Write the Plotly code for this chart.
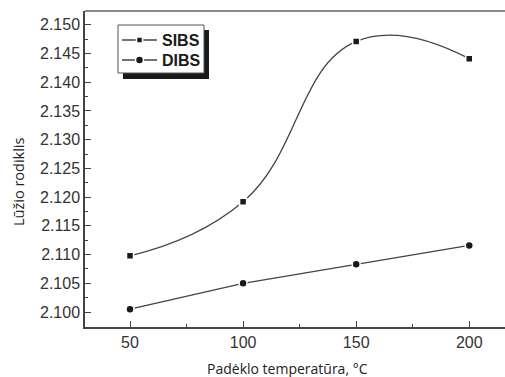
import plotly.graph_objects as go

# Substrate temperature (°C) and refractive index for two deposition methods
temperature = [50, 100, 150, 200]
sibs_index = [2.1098, 2.1192, 2.1471, 2.1441]
dibs_index = [2.1005, 2.1050, 2.1083, 2.1116]
series_names = ["SIBS", "DIBS"]

y_ticks = [2.100, 2.105, 2.110, 2.115, 2.120, 2.125, 2.130, 2.135, 2.140, 2.145, 2.150]
x_ticks = [50, 100, 150, 200]

W, H = 505, 377
ML, MR, MT, MB = 85, 0, 11, 50
PW, PH = W - ML - MR, H - MT - MB

LINE = "#444444"
INK = "#1a1a1a"


def px_x(p):
    return (p - ML) / PW


def px_y(p):
    return (H - MB - p) / PH


fig = go.Figure()

fig.add_trace(go.Scatter(
    x=temperature, y=sibs_index, name=series_names[0],
    mode="lines+markers",
    line=dict(color=LINE, width=1.3, shape="spline", smoothing=1.3),
    marker=dict(symbol="square", size=7, color=INK,
                line=dict(color="white", width=1.5)),
))
fig.add_trace(go.Scatter(
    x=temperature, y=dibs_index, name=series_names[1],
    mode="lines+markers",
    line=dict(color=LINE, width=1.3),
    marker=dict(symbol="circle", size=8, color=INK,
                line=dict(color="white", width=1.5)),
))

# Top frame line
fig.add_shape(type="line", xref="paper", yref="paper",
              x0=0, x1=1, y0=1, y1=1,
              line=dict(color="#8a8a8a", width=2))

# Legend box with a drop shadow, drawn as paper-space shapes
box_l, box_t, box_r, box_b = 118, 25, 204, 73
fig.add_shape(type="rect", xref="paper", yref="paper",
              x0=px_x(box_l + 5), x1=px_x(box_r + 5),
              y0=px_y(box_b + 6), y1=px_y(box_t + 5),
              fillcolor=INK, line=dict(width=0))
fig.add_shape(type="rect", xref="paper", yref="paper",
              x0=px_x(box_l), x1=px_x(box_r), y0=px_y(box_b), y1=px_y(box_t),
              fillcolor="white", line=dict(color="#555555", width=1))

rows = [40, 60]
for i, (name, row) in enumerate(zip(series_names, rows)):
    fig.add_shape(type="line", xref="paper", yref="paper",
                  x0=px_x(122), x1=px_x(157), y0=px_y(row), y1=px_y(row),
                  line=dict(color=LINE, width=1.3))
    if i == 0:
        fig.add_shape(type="rect", xref="paper", yref="paper",
                      x0=px_x(136.5), x1=px_x(142.5),
                      y0=px_y(row + 3), y1=px_y(row - 3),
                      fillcolor=INK, line=dict(color="white", width=1.5))
    else:
        fig.add_shape(type="circle", xref="paper", yref="paper",
                      x0=px_x(135.5), x1=px_x(143.5),
                      y0=px_y(row + 4), y1=px_y(row - 4),
                      fillcolor=INK, line=dict(color="white", width=1.5))
    fig.add_annotation(xref="paper", yref="paper",
                       x=px_x(160), y=px_y(row), xanchor="left", yanchor="middle",
                       text=f"<b>{name}</b>", showarrow=False,
                       font=dict(family="Liberation Sans, Arial, sans-serif",
                                 size=16, color=INK))

# Axis titles
fig.add_annotation(xref="paper", yref="paper",
                   x=px_x(287), y=px_y(368), xanchor="center", yanchor="middle",
                   text="Padėklo temperatūra, °C", showarrow=False,
                   font=dict(family="Open Sans, sans-serif", size=14, color="#222222"))
fig.add_annotation(xref="paper", yref="paper",
                   x=px_x(18), y=px_y(182), xanchor="center", yanchor="middle",
                   text="Lūžio rodiklis", showarrow=False, textangle=-90,
                   font=dict(family="Open Sans, sans-serif", size=14.5, color="#222222"))

fig.update_layout(
    width=W, height=H,
    margin=dict(l=ML, r=MR, t=MT, b=MB),
    paper_bgcolor="white", plot_bgcolor="white",
    font=dict(family="Liberation Sans, Arial, sans-serif", color="#333333"),
    showlegend=False,
)

fig.update_xaxes(
    range=[30.1, 215.8],
    tickmode="array", tickvals=x_ticks,
    ticks="inside", ticklen=6, tickwidth=1.2, tickcolor=LINE,
    minor=dict(tickmode="array", tickvals=[75, 125, 175], ticks="inside",
               ticklen=3, tickwidth=1, tickcolor=LINE),
    showline=True, linecolor=LINE, linewidth=1.5,
    showgrid=False, zeroline=False,
    tickfont=dict(size=16, color="#333333"),
)

fig.update_yaxes(
    range=[2.0974, 2.1524],
    tickmode="array", tickvals=y_ticks,
    ticktext=[f"{v:.3f}" for v in y_ticks],
    ticks="inside", ticklen=6, tickwidth=1.2, tickcolor=LINE,
    minor=dict(tickmode="array",
               tickvals=[2.1025 + 0.005 * i for i in range(10)],
               ticks="inside", ticklen=3, tickwidth=1, tickcolor=LINE),
    showline=True, linecolor=LINE, linewidth=1.5,
    showgrid=False, zeroline=False,
    tickfont=dict(size=16, color="#333333"),
)

fig.write_html("out.html")
